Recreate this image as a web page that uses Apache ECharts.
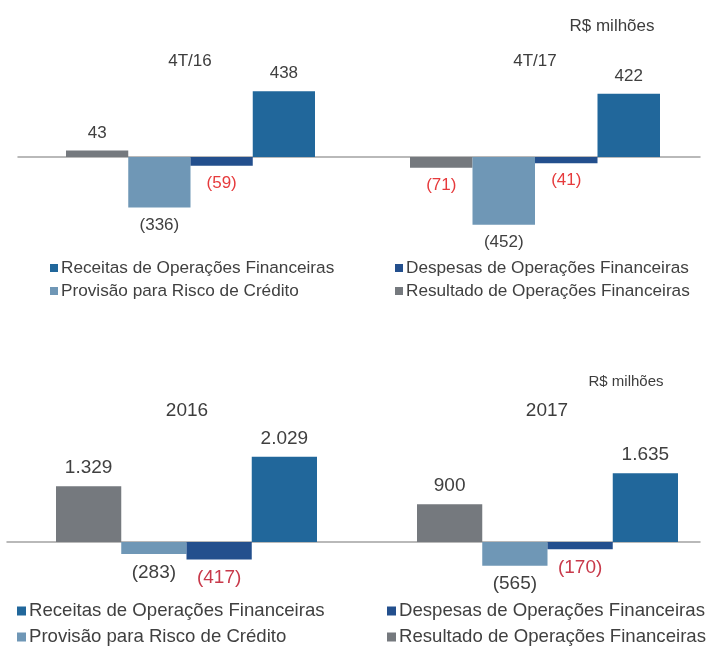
<!DOCTYPE html>
<html>
<head>
<meta charset="utf-8">
<script src="https://cdn.jsdelivr.net/npm/echarts@6/dist/echarts.min.js"></script>
<style>
  html, body { margin: 0; padding: 0; background: #fff; }
  #chart { width: 708px; height: 646px; }
</style>
</head>
<body>
<div id="chart"></div>
<script>
// categorias (ordem das barras, da esquerda para a direita)
var categories = [
  "Resultado de Operações Financeiras",
  "Provisão para Risco de Crédito",
  "Despesas de Operações Financeiras",
  "Receitas de Operações Financeiras",
];
var periods = ["4T/16", "4T/17", "2016", "2017"];

// R$ milhões
var v4T16 = [43, -336, -59, 438];
var v4T17 = [-71, -452, -41, 422];
var v2016 = [1329, -283, -417, 2029];
var v2017 = [900, -565, -170, 1635];

var panelValues = [v4T16, v4T17, v2016, v2017];

var colors = ["#75797e", "#6f97b6", "#234f8d", "#21679b"];
var font = "'Liberation Sans', Arial, sans-serif";

// layout de cada painel
var panels = [
  { left: 66, width: 249, top: 82, height: 150, min: -500, max: 500, fs: 17, red: "#e63a3c", titleX: 190, titleY: 53, titleFs: 17 },
  { left: 410, width: 250, top: 82, height: 150, min: -500, max: 500, fs: 17, red: "#e63a3c", titleX: 535, titleY: 53, titleFs: 17 },
  { left: 56, width: 261, top: 437, height: 147, min: -1000, max: 2500, fs: 19, red: "#c8394a", titleX: 187, titleY: 401, titleFs: 19 },
  { left: 417, width: 261, top: 437, height: 147, min: -1000, max: 2500, fs: 19, red: "#c8394a", titleX: 547, titleY: 401, titleFs: 19 },
];

// formata 1329 -> 1.329 e negativos entre parenteses
function fmt(v) {
  var s = String(Math.abs(v)).replace(/\B(?=(\d{3})+(?!\d))/g, ".");
  return v < 0 ? "(" + s + ")" : s;
}

var grid = [];
var xAxis = [];
var yAxis = [];
var series = [];
var title = [];

// linhas de base (eixo zero) de cada linha de graficos
var rows = [
  { left: 18, right: 8, top: 82, height: 150, min: -500, max: 500 },
  { left: 7, right: 8, top: 437, height: 147, min: -1000, max: 2500 },
];
rows.forEach(function (r) {
  var gi = grid.length;
  grid.push({ left: r.left, right: r.right, top: r.top, height: r.height });
  xAxis.push({
    gridIndex: gi,
    type: "category",
    data: [""],
    axisLine: { show: true, onZero: true, lineStyle: { color: "#a3a3a3", width: 1.5 } },
    axisTick: { show: false },
    axisLabel: { show: false },
  });
  yAxis.push({ gridIndex: gi, type: "value", min: r.min, max: r.max, show: false, splitLine: { show: false } });
});

panels.forEach(function (p, i) {
  var gi = grid.length;
  grid.push({ left: p.left, width: p.width, top: p.top, height: p.height });
  xAxis.push({ gridIndex: gi, type: "category", data: categories, show: false });
  yAxis.push({ gridIndex: gi, type: "value", min: p.min, max: p.max, show: false, splitLine: { show: false } });

  title.push({
    text: periods[i],
    left: p.titleX,
    top: p.titleY,
    textAlign: "center",
    padding: 0,
    textStyle: { fontFamily: font, fontSize: p.titleFs, fontWeight: "normal", color: "#3d3d3d" },
  });

  var vals = panelValues[i];
  categories.forEach(function (c, j) {
    series.push({
      name: c,
      type: "bar",
      xAxisIndex: gi,
      yAxisIndex: gi,
      stack: "p" + i,
      barCategoryGap: "0%",
      itemStyle: { color: colors[j] },
      label: {
        show: true,
        distance: 9,
        fontFamily: font,
        fontSize: p.fs,
        formatter: function (d) { return fmt(d.value); },
      },
      data: categories.map(function (cc, k) {
        if (k !== j) return "-";
        var v = vals[k];
        var isRed = v < 0 && k !== 1;
        return {
          value: v,
          label: { position: v >= 0 ? "top" : "bottom", color: isRed ? p.red : "#404040" },
        };
      }),
    });
  });
});

title.push({
  text: "R$ milhões", left: 612, top: 18, textAlign: "center", padding: 0,
  textStyle: { fontFamily: font, fontSize: 17, fontWeight: "normal", color: "#3d3d3d" },
});
title.push({
  text: "R$ milhões", left: 626, top: 374, textAlign: "center", padding: 0,
  textStyle: { fontFamily: font, fontSize: 15, fontWeight: "normal", color: "#3d3d3d" },
});

// legendas: uma por item para alinhar as colunas
var legendSlots = [
  // topo
  { name: categories[3], left: 50, cy: 268, fs: 17.2, size: 8 },
  { name: categories[2], left: 395, cy: 268, fs: 17.2, size: 8 },
  { name: categories[1], left: 50, cy: 291, fs: 17.2, size: 8 },
  { name: categories[0], left: 395, cy: 291, fs: 17.2, size: 8 },
  // baixo
  { name: categories[3], left: 17, cy: 611, fs: 18.6, size: 9 },
  { name: categories[2], left: 387, cy: 611, fs: 18.6, size: 9 },
  { name: categories[1], left: 17, cy: 637, fs: 18.6, size: 9 },
  { name: categories[0], left: 387, cy: 637, fs: 18.6, size: 9 },
];
var legend = legendSlots.map(function (s) {
  return {
    data: [s.name],
    left: s.left,
    top: s.cy - 10,
    padding: 0,
    icon: "rect",
    itemWidth: s.size,
    itemHeight: s.size,
    itemGap: 0,
    selectedMode: false,
    textStyle: { fontFamily: font, fontSize: s.fs, lineHeight: 20, color: "#404040", padding: [0, 0, 0, -2] },
  };
});

var myChart = echarts.init(document.getElementById("chart"));
var option = {
  backgroundColor: "#ffffff",
  animation: false,
  textStyle: { fontFamily: font },
  title: title,
  legend: legend,
  grid: grid,
  xAxis: xAxis,
  yAxis: yAxis,
  series: series,
};
option && myChart.setOption(option);
</script>
</body>
</html>
